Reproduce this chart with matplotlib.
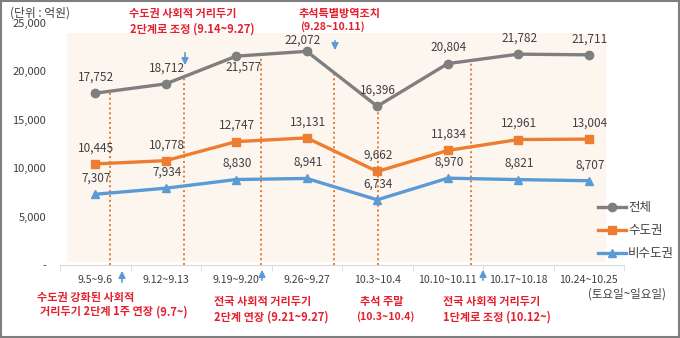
import matplotlib.pyplot as plt
import matplotlib.patches as patches
import numpy as np

plt.rcParams['font.family'] = ['Noto Sans CJK KR', 'DejaVu Sans']

# Data
weeks = ["9.5~9.6", "9.12~9.13", "9.19~9.20", "9.26~9.27",
         "10.3~10.4", "10.10~10.11", "10.17~10.18", "10.24~10.25"]
total = [17752, 18712, 21577, 22072, 16396, 20804, 21782, 21711]
capital = [10445, 10778, 12747, 13131, 9662, 11834, 12961, 13004]
non_capital = [7307, 7934, 8830, 8941, 6734, 8970, 8821, 8707]
series_names = ["전체", "수도권", "비수도권"]

# event marker positions (between categories)
events = [0.21, 1.26, 2.35, 3.38, 4.01, 5.33]

W, H = 680, 338
fig = plt.figure(figsize=(6.8, 3.38), dpi=100)
ax = fig.add_axes([60 / W, 73 / H, 564 / W, 242 / H])

# helper: pixel coords measured from top-left of the image
def fp(x, y):
    return (x / W, 1 - y / H)

# Background shading
ax.add_patch(patches.Rectangle((0.012, 0.012), 0.956, 0.947, transform=ax.transAxes,
                               facecolor="#FDF6EE", edgecolor="none", zorder=0))

x = np.arange(len(weeks))
c_total, c_cap, c_non = "#7F7F7F", "#ED7D31", "#5B9BD5"

# Dotted event lines from the axis up to the total line
for e in events:
    top = np.interp(e, x, total)
    ax.plot([e, e], [0, top], linestyle=(0, (1, 1.5)), color="#E07B39", lw=1.4, zorder=1)

l1, = ax.plot(x, total, color=c_total, marker="o", ms=6, lw=2.4, zorder=3)
l2, = ax.plot(x, capital, color=c_cap, marker="s", ms=6, lw=2.4, zorder=3)
l3, = ax.plot(x, non_capital, color=c_non, marker="^", ms=6, lw=2.4, zorder=3)

# data labels, ~16 px above the point; a few are nudged
special = {(0, 2): (7, -11), (0, 3): (-4, 11)}
for si, series in enumerate((total, capital, non_capital)):
    for xi, v in zip(x, series):
        off = special.get((si, xi), (1, 16))
        ax.annotate(f"{v:,}", (xi, v), xytext=off, textcoords="offset pixels",
                    ha="center", va="center", fontsize=8.5, color="#404040", zorder=4)

ax.set_xlim(-0.5, len(weeks) - 0.5)
ax.set_ylim(0, 25000)
ax.set_yticks(range(0, 25001, 5000))
ax.set_yticklabels(["-"] + [f"{v:,}" for v in range(5000, 25001, 5000)])
ax.set_xticks(x)
ax.set_xticklabels(weeks)
ax.set_xticks(np.arange(-0.5, len(weeks)), minor=True)
ax.tick_params(axis="x", which="major", length=0, pad=7, labelsize=7.6, labelcolor="#404040")
ax.tick_params(axis="x", which="minor", length=4, color="#D9D9D9")
ax.tick_params(axis="y", length=0, pad=10, labelsize=8, labelcolor="#404040")
for s in ("top", "right", "left"):
    ax.spines[s].set_visible(False)
ax.spines["bottom"].set_color("#D9D9D9")
ax.set_facecolor("none")

# Unit label and extra tick text
fig.text(*fp(10, 13), "(단위 : 억원)", fontsize=8.5, color="#404040", va="center")
fig.text(*fp(627, 294), "(토요일~일요일)", fontsize=8.3, color="#404040", ha="center", va="center")

# Red annotations: (x, y, main text, small bracket text, alignment)
red = "#E4202E"
narrow = ["Liberation Sans Narrow", "Noto Sans CJK KR", "DejaVu Sans"]
note_lines = [
    (183, 13, "수도권 사회적 거리두기", "", "center"),
    (130, 29, "2단계로 조정", "(9.14~9.27)", "left"),
    (340, 13, "추석특별방역조치", "", "center"),
    (300, 27, "", "(9.28~10.11)", "left"),
    (37, 297, "수도권 강화된 사회적", "", "left"),
    (40, 312, "거리두기 2단계 1주 연장", "(9.7~)", "left"),
    (214, 302, "전국 사회적 거리두기", "", "left"),
    (214, 317, "2단계 연장", "(9.21~9.27)", "left"),
    (382, 302, "추석 주말", "", "center"),
    (385, 317, "", "(10.3~10.4)", "center"),
    (443, 302, "전국 사회적 거리두기", "", "left"),
    (443, 317, "1단계로 조정", "(10.12~)", "left"),
]
for px, py, main, small, ha in note_lines:
    if main:
        t = fig.text(*fp(px, py), main, color=red, fontsize=8, fontweight="bold",
                     ha=ha, va="center")
        if small:
            fig.add_artist(plt.Annotation(small, xy=(1, 0.5), xycoords=t, xytext=(2, 0),
                                          textcoords="offset points", ha="left", va="center",
                                          color=red, fontsize=8, fontweight="bold",
                                          family=narrow))
    else:
        fig.text(*fp(px, py), small, color=red, fontsize=7.6, fontweight="bold",
                 ha=ha, va="center", family=narrow)

# Blue arrows
arrows = [((185, 50), (185, 68)), ((335, 38), (335, 53)),
          ((122, 285), (122, 268)), ((262, 283), (262, 267)), ((483, 283), (483, 267))]
for start, end in arrows:
    fig.add_artist(patches.FancyArrowPatch(fp(*start), fp(*end), transform=fig.transFigure,
                                           arrowstyle="-|>,head_length=4,head_width=2",
                                           color=c_non, lw=1.2))

# Legend
fig.legend([l1, l2, l3], series_names, loc="upper left", bbox_to_anchor=fp(598, 201),
           frameon=False, fontsize=9, handlelength=2.2, handletextpad=0.2,
           labelspacing=0.8, borderpad=0, borderaxespad=0, labelcolor="#404040")

# Figure border
fig.add_artist(patches.Rectangle((0.002, 0.003), 0.996, 0.994, transform=fig.transFigure,
                                 fill=False, edgecolor="#7F7F7F", lw=1.5))

fig.savefig("out.png", dpi=100)
